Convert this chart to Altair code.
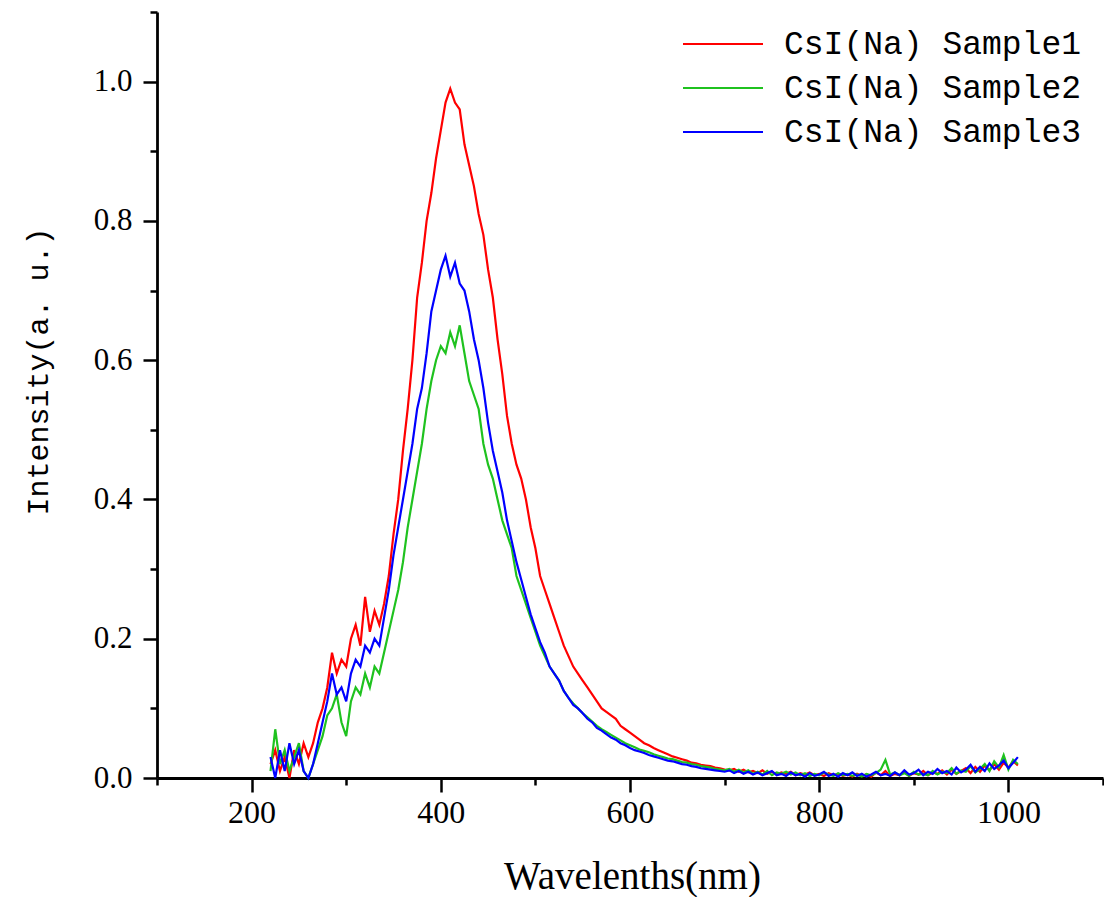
import altair as alt
import pandas as pd

# Wavelength grid (nm), 5 nm steps from 220 to 1010
wavelengths = list(range(220, 1011, 5))

sample1 = [
    0.02, 0.04, 0.01, 0.03, 0.00, 0.04, 0.02, 0.05, 0.03, 0.05,
    0.08, 0.10, 0.13, 0.18, 0.15, 0.17, 0.16, 0.20, 0.22, 0.19,
    0.26, 0.21, 0.24, 0.22, 0.25, 0.29, 0.35, 0.40, 0.47, 0.53,
    0.60, 0.69, 0.74, 0.80, 0.84, 0.89, 0.93, 0.97, 0.99, 0.97,
    0.96, 0.91, 0.88, 0.85, 0.81, 0.78, 0.73, 0.69, 0.63, 0.58,
    0.52, 0.48, 0.45, 0.43, 0.40, 0.36, 0.33, 0.29, 0.27, 0.25,
    0.23, 0.21, 0.19, 0.175, 0.16, 0.15, 0.14, 0.13, 0.12, 0.11,
    0.10, 0.095, 0.09, 0.085, 0.075, 0.07, 0.065, 0.06, 0.055, 0.05,
    0.047, 0.043, 0.04, 0.037, 0.034, 0.031, 0.029, 0.027, 0.025, 0.022,
    0.021, 0.019, 0.018, 0.017, 0.015, 0.014, 0.012, 0.011, 0.013, 0.009,
    0.012, 0.008, 0.010, 0.007, 0.011, 0.006, 0.009, 0.005, 0.008, 0.006,
    0.009, 0.004, 0.007, 0.005, 0.008, 0.004, 0.006, 0.003, 0.007, 0.004,
    0.006, 0.003, 0.005, 0.002, 0.006, 0.003, 0.005, 0.002, 0.008, 0.004,
    0.010, 0.003, 0.006, 0.004, 0.009, 0.003, 0.007, 0.005, 0.010, 0.004,
    0.008, 0.006, 0.011, 0.005, 0.012, 0.006, 0.010, 0.014, 0.007, 0.016,
    0.009, 0.018, 0.011, 0.020, 0.012, 0.022, 0.015, 0.024, 0.018,
]

sample2 = [
    0.01, 0.07, 0.02, 0.04, 0.01, 0.03, 0.05, 0.01, 0.00, 0.02,
    0.04, 0.06, 0.09, 0.10, 0.12, 0.08, 0.06, 0.11, 0.13, 0.12,
    0.15, 0.13, 0.16, 0.15, 0.18, 0.21, 0.24, 0.27, 0.31, 0.36,
    0.40, 0.44, 0.48, 0.53, 0.57, 0.60, 0.62, 0.61, 0.64, 0.62,
    0.65, 0.61, 0.57, 0.55, 0.53, 0.48, 0.45, 0.43, 0.40, 0.37,
    0.35, 0.33, 0.29, 0.27, 0.25, 0.23, 0.21, 0.19, 0.175, 0.16,
    0.15, 0.14, 0.125, 0.115, 0.107, 0.10, 0.093, 0.087, 0.081, 0.075,
    0.07, 0.066, 0.062, 0.058, 0.054, 0.05, 0.047, 0.044, 0.041, 0.039,
    0.037, 0.034, 0.032, 0.03, 0.028, 0.027, 0.025, 0.023, 0.022, 0.02,
    0.019, 0.017, 0.016, 0.015, 0.013, 0.012, 0.011, 0.013, 0.009, 0.012,
    0.008, 0.011, 0.006, 0.009, 0.005, 0.010, 0.004, 0.008, 0.006, 0.009,
    0.005, 0.008, 0.004, 0.007, 0.003, 0.006, 0.004, 0.008, 0.005, 0.003,
    0.007, 0.004, 0.006, 0.003, 0.005, 0.002, 0.006, 0.004, 0.007, 0.012,
    0.026, 0.005, 0.008, 0.004, 0.007, 0.003, 0.009, 0.005, 0.006, 0.004,
    0.010, 0.005, 0.009, 0.007, 0.014, 0.006, 0.011, 0.009, 0.017, 0.008,
    0.013, 0.020, 0.010, 0.024, 0.015, 0.033, 0.012, 0.026, 0.020,
]

sample3 = [
    0.03, 0.00, 0.04, 0.01, 0.05, 0.02, 0.04, 0.01, 0.00, 0.02,
    0.05, 0.08, 0.11, 0.15, 0.12, 0.13, 0.11, 0.15, 0.17, 0.16,
    0.19, 0.18, 0.20, 0.19, 0.23, 0.27, 0.32, 0.36, 0.40, 0.44,
    0.48, 0.53, 0.56, 0.61, 0.67, 0.70, 0.73, 0.75, 0.72, 0.74,
    0.71, 0.70, 0.67, 0.63, 0.60, 0.56, 0.51, 0.47, 0.44, 0.41,
    0.37, 0.34, 0.31, 0.285, 0.26, 0.235, 0.215, 0.195, 0.18, 0.16,
    0.15, 0.14, 0.125, 0.115, 0.105, 0.10, 0.093, 0.085, 0.08, 0.072,
    0.068, 0.063, 0.058, 0.055, 0.05, 0.047, 0.043, 0.04, 0.038, 0.036,
    0.033, 0.031, 0.029, 0.027, 0.025, 0.024, 0.022, 0.02, 0.019, 0.017,
    0.016, 0.014, 0.013, 0.012, 0.011, 0.010, 0.009, 0.011, 0.007, 0.010,
    0.006, 0.009, 0.005, 0.008, 0.004, 0.007, 0.010, 0.004, 0.006, 0.003,
    0.008, 0.004, 0.006, 0.002, 0.007, 0.003, 0.005, 0.009, 0.003, 0.006,
    0.002, 0.007, 0.004, 0.008, 0.003, 0.006, 0.002, 0.005, 0.009, 0.004,
    0.006, 0.003, 0.008, 0.004, 0.011, 0.005, 0.007, 0.012, 0.004, 0.009,
    0.006, 0.013, 0.007, 0.010, 0.005, 0.015, 0.008, 0.012, 0.019, 0.009,
    0.016, 0.010, 0.021, 0.013, 0.018, 0.025, 0.014, 0.022, 0.030,
]

series_names = ["CsI(Na) Sample1", "CsI(Na) Sample2", "CsI(Na) Sample3"]
series_colors = ["#FF0000", "#1FC21F", "#0000FF"]
series_values = [sample1, sample2, sample3]

x_ticks = [100, 200, 300, 400, 500, 600, 700, 800, 900, 1000, 1100]
y_ticks = [0.0, 0.1, 0.2, 0.3, 0.4, 0.5, 0.6, 0.7, 0.8, 0.9, 1.0, 1.1]

rows = []
for name, vals in zip(series_names, series_values):
    for w, v in zip(wavelengths, vals):
        rows.append({"wavelength": w, "intensity": v, "series": name})
df = pd.DataFrame(rows)

x_enc = alt.X(
    "wavelength:Q",
    scale=alt.Scale(domain=[100, 1100], nice=False, zero=False),
    axis=alt.Axis(
        title="Wavelenths(nm)",
        values=x_ticks,
        labelExpr="datum.value % 200 === 0 ? datum.label : ''",
        format="d",
        grid=False,
        domainColor="black",
        domainWidth=2.8,
        tickColor="black",
        tickWidth=2.5,
        tickSize={"condition": {"test": "datum.value % 200 === 0", "value": 14}, "value": 7},
        labelFont="Liberation Serif",
        labelFontSize=32,
        labelColor="black",
        labelPadding=5,
        labelFlush=False,
        labelOverlap=False,
        titleFont="Liberation Serif",
        titleFontSize=39,
        titleFontWeight="normal",
        titleColor="black",
        titleX=475,
        titleY=110,
        titleBaseline="alphabetic",
        titleAlign="center",
    ),
)

y_enc = alt.Y(
    "intensity:Q",
    scale=alt.Scale(domain=[0, 1.1], nice=False),
    axis=alt.Axis(
        title="Intensity(a. u.)",
        values=y_ticks,
        labelExpr="round(datum.value * 10) % 2 === 0 ? datum.label : ''",
        format=".1f",
        grid=False,
        domainColor="black",
        domainWidth=2.8,
        tickColor="black",
        tickWidth=2.5,
        tickSize={"condition": {"test": "round(datum.value * 10) % 2 === 0", "value": 14}, "value": 7},
        labelFont="Liberation Serif",
        labelFontSize=31,
        labelColor="black",
        labelPadding=11,
        labelFlush=False,
        labelOverlap=False,
        titleFont="Liberation Mono",
        titleFontSize=30,
        titleFontWeight="normal",
        titleColor="black",
        titleAngle=270,
        titleX=-110,
        titleY=359,
        titleBaseline="alphabetic",
        titleAlign="center",
    ),
)

color_enc = alt.Color(
    "series:N",
    scale=alt.Scale(domain=series_names, range=series_colors),
    legend=alt.Legend(
        title=None,
        orient="none",
        legendX=525,
        legendY=19,
        symbolType="stroke",
        symbolSize=6400,
        symbolStrokeWidth=2,
        clipHeight=26,
        rowPadding=11,
        labelFont="Liberation Mono",
        labelFontSize=33,
        labelColor="black",
        labelOffset=20,
        labelLimit=0,
        padding=0,
    ),
)

layers = []
for name in series_names:
    layers.append(
        alt.Chart(df)
        .transform_filter(alt.datum.series == name)
        .mark_line(strokeWidth=2.2)
        .encode(x=x_enc, y=y_enc, color=color_enc)
    )

chart = (
    alt.layer(*layers)
    .properties(
        width=946,
        height=766,
        padding={"left": 157, "top": 12, "right": 1, "bottom": 119},
        autosize=alt.AutoSizeParams(type="none"),
        background="white",
    )
    .configure_view(stroke=None)
)

chart.save("out.html", embed_options={"renderer": "svg", "actions": False})
